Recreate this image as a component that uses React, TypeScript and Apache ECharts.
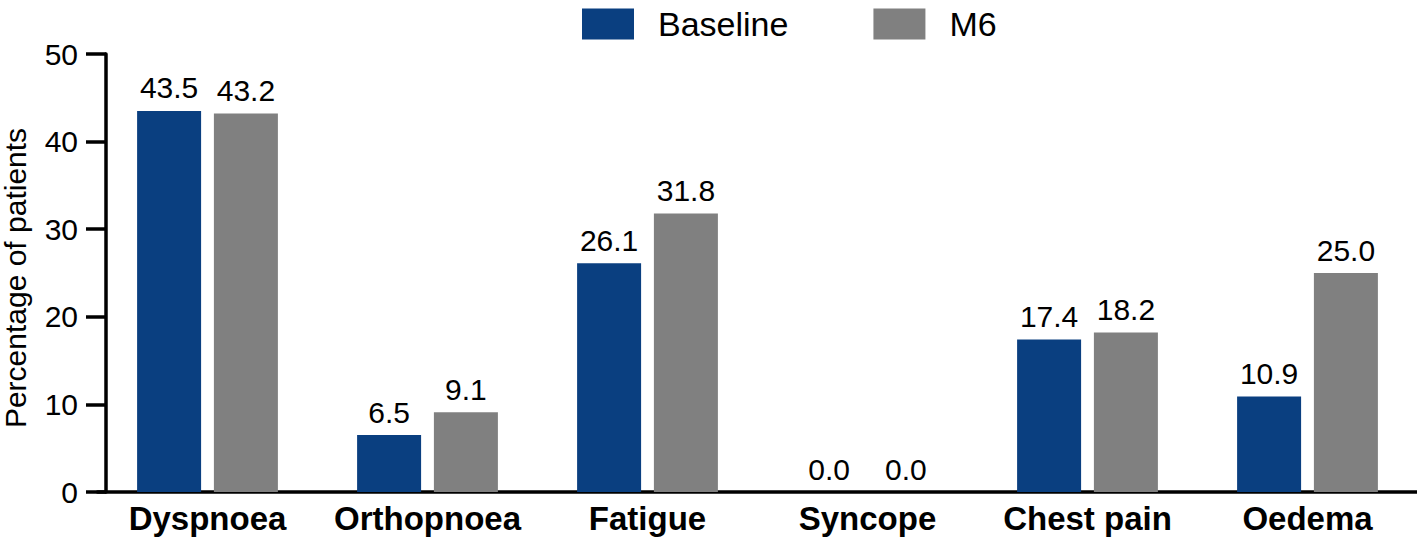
import React, { useEffect, useRef } from "react";
import * as echarts from "echarts";

const categories = ["Dyspnoea", "Orthopnoea", "Fatigue", "Syncope", "Chest pain", "Oedema"];
const baselineValues = [43.5, 6.5, 26.1, 0.0, 17.4, 10.9];
const m6Values = [43.2, 9.1, 31.8, 0.0, 18.2, 25.0];
const seriesNames = ["Baseline", "M6"];
const yTicks = { min: 0, max: 50, interval: 10 };

const FONT = "Liberation Sans, Arial, Helvetica, sans-serif";

export default function App() {
  const ref = useRef<HTMLDivElement>(null);
  useEffect(() => {
    if (!ref.current) return;
    const chart = echarts.init(ref.current, undefined, { renderer: "svg" });
    const labelCfg = {
      show: true,
      position: "top" as const,
      distance: 8,
      color: "#000",
      fontSize: 30,
      fontFamily: FONT,
      formatter: (p: any) => Number(p.value).toFixed(1),
    };
    chart.setOption({
      animation: false,
      backgroundColor: "#fff",
      textStyle: { fontFamily: FONT },
      legend: {
        left: 582,
        top: 7,
        padding: 0,
        itemWidth: 52,
        itemHeight: 31,
        itemGap: 85,
        icon: "rect",
        data: seriesNames,
        textStyle: { fontSize: 34, color: "#000", fontFamily: FONT, padding: [0, 0, 0, 19] },
      },
      grid: [
        { left: 97.5, top: 54, width: 1320, bottom: 50, containLabel: false, outerBoundsMode: "none" },
        { left: 106, top: 54, width: 1300, bottom: 50, containLabel: false, outerBoundsMode: "none" },
      ],
      xAxis: [
        {
          type: "category",
          gridIndex: 0,
          data: categories,
          axisLine: { show: true, lineStyle: { color: "#000", width: 3.5 } },
          axisTick: { show: false },
          axisLabel: { color: "#000", fontSize: 33, fontWeight: "bold", fontFamily: FONT, margin: 10, interval: 0 },
        },
        {
          type: "value",
          gridIndex: 1,
          show: false,
        },
      ],
      yAxis: [
        {
          type: "value",
          gridIndex: 0,
          min: yTicks.min,
          max: yTicks.max,
          interval: yTicks.interval,
          show: false,
        },
        {
          type: "value",
          gridIndex: 1,
          min: yTicks.min,
          max: yTicks.max,
          interval: yTicks.interval,
          name: "Percentage of patients",
          nameLocation: "middle",
          nameGap: 76,
          nameTextStyle: { color: "#000", fontSize: 30, fontFamily: FONT, padding: [0, 10, 0, 0] },
          axisLine: { show: true, lineStyle: { color: "#000", width: 3.5 } },
          axisTick: { show: true, length: 20, lineStyle: { color: "#000", width: 3.5 } },
          axisLabel: { color: "#000", fontSize: 30, fontFamily: FONT, margin: 28 },
          splitLine: { show: false },
        },
      ],
      series: [
        {
          name: seriesNames[0],
          type: "bar",
          xAxisIndex: 0,
          yAxisIndex: 0,
          data: baselineValues,
          barWidth: 64,
          barGap: "20%",
          itemStyle: { color: "#0a3f80" },
          label: labelCfg,
        },
        {
          name: seriesNames[1],
          type: "bar",
          xAxisIndex: 0,
          yAxisIndex: 0,
          data: m6Values,
          barWidth: 64,
          barGap: "20%",
          itemStyle: { color: "#808080" },
          label: labelCfg,
        },
      ],
    });
    return () => chart.dispose();
  }, []);
  return (
    <div
      ref={ref}
      style={{ position: "fixed", left: 0, top: 0, width: 1417, height: 542, background: "#fff" }}
    />
  );
}
